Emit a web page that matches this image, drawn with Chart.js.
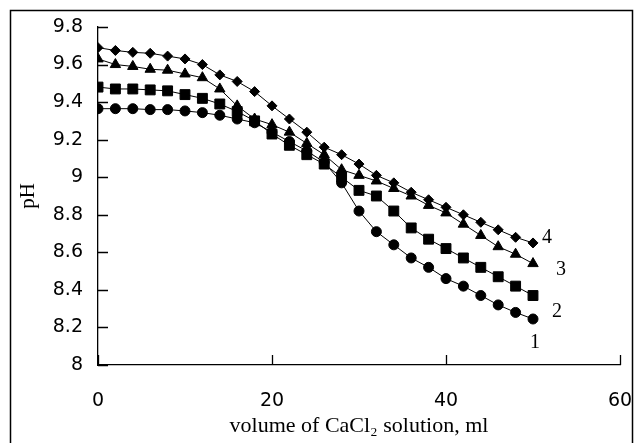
<!DOCTYPE html>
<html>
<head>
<meta charset="utf-8">
<script src="https://cdn.jsdelivr.net/npm/chart.js@4/dist/chart.umd.min.js"></script>
<style>
  html, body { margin: 0; padding: 0; background: #fff; }
  #wrap { width: 643px; height: 443px; }
</style>
</head>
<body>
<div id="wrap"><canvas id="chart"></canvas></div>
<script>
// volume of CaCl2 added, ml (every 2 ml)
const volumes = [0, 2, 4, 6, 8, 10, 12, 14, 16, 18, 20, 22, 24, 26, 28, 30, 32, 34, 36, 38, 40, 42, 44, 46, 48, 50];

// pH readings per curve
const ph1 = [9.365, 9.365, 9.365, 9.36, 9.36, 9.353, 9.344, 9.33, 9.31, 9.29, 9.24, 9.19, 9.14, 9.08, 8.97, 8.82, 8.71, 8.64, 8.57, 8.52, 8.46, 8.42, 8.37, 8.32, 8.28, 8.245];
const ph2 = [9.48, 9.47, 9.47, 9.465, 9.46, 9.44, 9.42, 9.39, 9.35, 9.30, 9.23, 9.17, 9.12, 9.07, 9.00, 8.93, 8.90, 8.82, 8.73, 8.67, 8.62, 8.57, 8.52, 8.47, 8.42, 8.37];
const ph3 = [9.63, 9.60, 9.59, 9.575, 9.57, 9.55, 9.53, 9.47, 9.38, 9.31, 9.28, 9.24, 9.18, 9.12, 9.04, 9.01, 8.98, 8.94, 8.90, 8.85, 8.81, 8.75, 8.69, 8.63, 8.59, 8.54];
const ph4 = [9.69, 9.675, 9.665, 9.66, 9.645, 9.63, 9.60, 9.545, 9.51, 9.456, 9.38, 9.31, 9.24, 9.16, 9.12, 9.07, 9.01, 8.97, 8.92, 8.88, 8.84, 8.80, 8.76, 8.72, 8.68, 8.65];

const curveLabels = ["1", "2", "3", "4"];
const xTicks = [0, 20, 40, 60];
const yTicks = [8, 8.2, 8.4, 8.6, 8.8, 9, 9.2, 9.4, 9.6, 9.8];

const toPts = (ys) => volumes.map((v, i) => ({ x: v, y: ys[i] }));

function series(label, ys, style, radius) {
  return {
    label, data: toPts(ys),
    showLine: true, borderColor: "#000", borderWidth: 1,
    pointStyle: style, pointRadius: radius,
    pointBackgroundColor: "#000", pointBorderColor: "#000", pointBorderWidth: 1
  };
}

// outer frame, inward ticks and curve numbers
const extras = {
  id: "extras",
  beforeDraw(chart) {
    const ctx = chart.ctx;
    ctx.save();
    ctx.strokeStyle = "#000";
    ctx.lineWidth = 1.5;
    ctx.strokeRect(10.5, 10.5, 622, 460);
    ctx.restore();
  },
  afterDraw(chart) {
    const { ctx, scales: { x, y } } = chart;
    ctx.save();
    ctx.strokeStyle = "#000";
    ctx.lineWidth = 1.3;
    ctx.beginPath();
    yTicks.forEach(v => {
      const py = Math.round(y.getPixelForValue(v)) + 0.5;
      ctx.moveTo(x.left, py); ctx.lineTo(x.left + 10, py);
    });
    xTicks.forEach(v => {
      const px = Math.round(x.getPixelForValue(v)) + 0.5;
      ctx.moveTo(px, y.bottom); ctx.lineTo(px, y.bottom - 10);
    });
    ctx.stroke();

    // number next to the last point of each curve
    const offs = [[-3, 24], [19, 16], [23, 6], [9, -5]];
    ctx.fillStyle = "#000";
    ctx.font = "20px 'Liberation Serif', serif";
    ctx.textBaseline = "middle";
    ctx.textAlign = "left";
    chart.data.datasets.forEach((ds, i) => {
      const pts = chart.getDatasetMeta(i).data;
      const p = pts[pts.length - 1];
      ctx.fillText(curveLabels[i], p.x + offs[i][0], p.y + offs[i][1]);
    });
    ctx.restore();
  }
};

new Chart(document.getElementById("chart"), {
  type: "scatter",
  data: {
    datasets: [
      series("1", ph1, "circle", 5),
      series("2", ph2, "rect", 7),
      series("3", ph3, "triangle", 6),
      series("4", ph4, "rectRot", 5)
    ]
  },
  options: {
    responsive: true,
    maintainAspectRatio: false,
    animation: false,
    layout: { padding: { top: 27, right: 23, left: 0, bottom: 0 } },
    plugins: { legend: { display: false }, tooltip: { enabled: false } },
    scales: {
      x: {
        type: "linear", min: 0, max: 60,
        afterBuildTicks: s => { s.ticks = xTicks.map(v => ({ value: v })); },
        afterFit: s => { s.height = 78; s.paddingLeft = 0; s.paddingRight = 0; },
        grid: { display: false },
        border: { display: true, color: "#000", width: 1.3 },
        ticks: { color: "#000", padding: 17, font: { family: "'DejaVu Sans'", size: 19 } },
        title: {
          display: true, text: "volume of CaCl\u2082 solution, ml", color: "#000",
          font: { family: "'Liberation Serif', serif", size: 22 }, padding: { top: 0, bottom: 4 }
        }
      },
      y: {
        type: "linear", min: 8, max: 9.8,
        afterBuildTicks: s => { s.ticks = yTicks.map(v => ({ value: v })); },
        afterFit: s => { s.width = 98; s.paddingTop = 0; s.paddingBottom = 0; },
        grid: { display: false },
        border: { display: true, color: "#000", width: 1.3 },
        ticks: {
          color: "#000", padding: 7, font: { family: "'DejaVu Sans'", size: 19 },
          callback: v => String(+v.toFixed(1))
        },
        title: {
          display: true, text: "pH", color: "#000",
          font: { family: "'Liberation Serif', serif", size: 21 }, padding: { top: 16, bottom: 0 }
        }
      }
    }
  },
  plugins: [extras]
});
</script>
</body>
</html>
